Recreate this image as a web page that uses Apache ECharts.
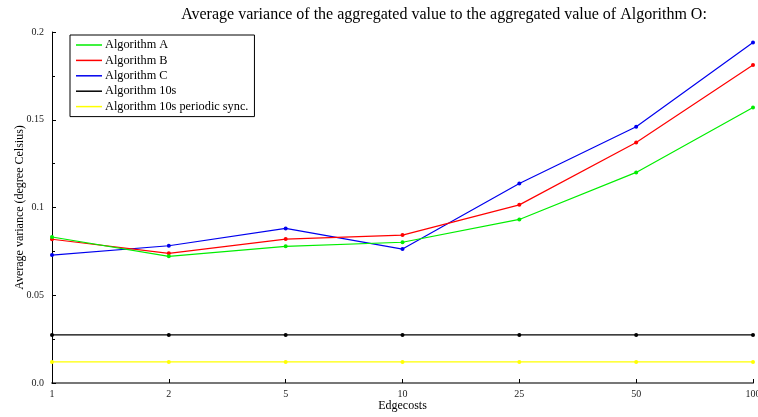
<!DOCTYPE html>
<html><head><meta charset="utf-8">
<script src="https://cdn.jsdelivr.net/npm/echarts@6/dist/echarts.min.js"></script>
<style>html,body{margin:0;padding:0;background:#fff}#c{width:758px;height:417px}</style>
</head><body><div id="c"></div>
<script>
const categories = ['1','2','5','10','25','50','100'];
const algA = [0.0832, 0.0722, 0.0779, 0.0802, 0.0932, 0.1200, 0.1570];
const algB = [0.0819, 0.0739, 0.0820, 0.0843, 0.1015, 0.1370, 0.1812];
const algC = [0.0729, 0.0782, 0.0881, 0.0763, 0.1137, 0.1460, 0.1940];
const alg10s = [0.0274, 0.0274, 0.0274, 0.0274, 0.0274, 0.0274, 0.0274];
const alg10sSync = [0.0120, 0.0120, 0.0120, 0.0120, 0.0120, 0.0120, 0.0120];
const names = ['Algorithm A','Algorithm B','Algorithm C','Algorithm 10s','Algorithm 10s periodic sync.'];
const colors = ['#00ee00','#ff0000','#0000ee','#000000','#ffff00'];
const data = [algA, algB, algC, alg10s, alg10sSync];
const font = 'Liberation Serif';
const chart = echarts.init(document.getElementById('c'), null, {renderer:'canvas'});
chart.setOption({
  animation:false,
  backgroundColor:'#fff',
  title:{text:'Average variance of the aggregated value to the aggregated value of Algorithm O:',
    left:439, textAlign:'center', top:2,
    textStyle:{fontFamily:font, fontSize:16, fontWeight:'normal', color:'#000'}},
  legend:{orient:'vertical', left:70, top:35, padding:[4,6,4,6], itemGap:3.4,
    itemWidth:26, itemHeight:1.5, icon:'rect',
    borderColor:'#000', borderWidth:1, backgroundColor:'#fff',
    textStyle:{fontFamily:font, fontSize:12.3, color:'#000', padding:[0,0,0,-2]},
    data:names},
  grid:{left:52, right:5, top:32, bottom:34, containLabel:false, outerBoundsMode:'none'},
  xAxis:{type:'category', data:categories, boundaryGap:false,
    name:'Edgecosts', nameLocation:'middle', nameGap:17, nameMoveOverlap:false,
    nameTextStyle:{fontFamily:font, fontSize:12, color:'#000'},
    axisLine:{lineStyle:{color:'#777', width:2}},
    axisTick:{inside:true, length:4, lineStyle:{color:'#000'}, alignWithLabel:true},
    axisLabel:{fontFamily:font, fontSize:10, color:'#222', margin:6, hideOverlap:false},
    splitLine:{show:false}},
  yAxis:{type:'value', min:0, max:0.2, interval:0.05,
    name:'Average variance (degree Celsius)', nameLocation:'middle', nameGap:26, nameMoveOverlap:false,
    nameTextStyle:{fontFamily:font, fontSize:12, color:'#000'},
    axisLine:{show:true, lineStyle:{color:'#000', width:1}},
    axisTick:{show:true, inside:true, length:4, lineStyle:{color:'#000'}},
    minorTick:{show:true, splitNumber:2, length:3, lineStyle:{color:'#000'}},
    axisLabel:{fontFamily:font, fontSize:10, color:'#222', margin:8,
      formatter:function(v){return v===0?'0.0':String(+v.toFixed(3));}},
    splitLine:{show:false}},
  series: names.map((n,i)=>({name:n, type:'line', data:data[i],
    symbol:'circle', symbolSize:4, showSymbol:true,
    itemStyle:{color:colors[i]}, lineStyle:{color:colors[i], width:1.2},
    z: 10-i}))
});
</script></body></html>
